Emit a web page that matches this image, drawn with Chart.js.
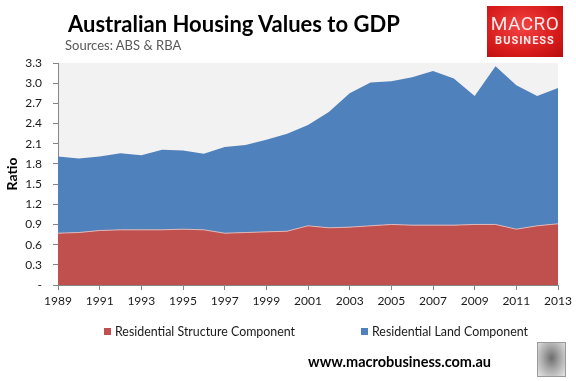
<!DOCTYPE html>
<html>
<head>
<meta charset="utf-8">
<script src="https://cdn.jsdelivr.net/npm/chart.js@4.4.0/dist/chart.umd.min.js"></script>
<style>
  body { margin: 0; background: #fff; font-family: Lato, sans-serif; }
  #wrap { position: relative; width: 576px; height: 381px; overflow: hidden; }
  #chartBox { position: absolute; left: 0; top: 0; width: 576px; height: 381px; }
  #title { position: absolute; left: 68px; top: 10px; font-size: 22px; font-weight: bold; color: #000; white-space: nowrap; }
  #sub { position: absolute; left: 65px; top: 37px; font-size: 13px; color: #595959; white-space: nowrap; }
  #logo { position: absolute; left: 487px; top: 6px; width: 76px; height: 51px;
          background: radial-gradient(ellipse at 45% 40%, #f44444 0%, #d81c1c 60%, #b80d0d 100%);
          color: #fde9e9; text-align: center; font-family: Roboto, sans-serif; }
  #logo .l1 { font-size: 19px; margin-top: 8px; line-height: 20px; letter-spacing: 0.5px; }
  #logo .l2 { font-size: 11px; font-weight: bold; line-height: 14px; letter-spacing: 1px; }
  #foot { position: absolute; left: 308px; top: 353px; font-size: 14.5px; font-weight: bold; color: #000; white-space: nowrap; }
  #wolf { position: absolute; left: 537px; top: 342px; width: 27px; height: 33px; border: 1px solid #9a9a9a;
          background: radial-gradient(ellipse at 50% 45%, #6d6d6d 0%, #a8a8a8 45%, #e6e6e6 100%); }
</style>
</head>
<body>
<div id="wrap">
  <div id="chartBox"><canvas id="housingChart"></canvas></div>
  <div id="title">Australian Housing Values to GDP</div>
  <div id="sub">Sources: ABS &amp; RBA</div>
  <div id="logo"><div class="l1">MACRO</div><div class="l2">BUSINESS</div></div>
  <div id="foot">www.macrobusiness.com.au</div>
  <div id="wolf"></div>
</div>
<script>
// data
const years = ['1989', '1990', '1991', '1992', '1993', '1994', '1995', '1996', '1997', '1998', '1999', '2000',
  '2001', '2002', '2003', '2004', '2005', '2006', '2007', '2008', '2009', '2010', '2011', '2012', '2013'];
const structure = [0.77, 0.78, 0.81, 0.82, 0.82, 0.82, 0.83, 0.82, 0.77, 0.78, 0.79, 0.80,
  0.88, 0.85, 0.86, 0.88, 0.90, 0.89, 0.89, 0.89, 0.90, 0.90, 0.83, 0.88, 0.91];
const land = [1.14, 1.10, 1.10, 1.14, 1.11, 1.19, 1.17, 1.13, 1.28, 1.30, 1.37, 1.45,
  1.50, 1.72, 1.99, 2.13, 2.13, 2.20, 2.29, 2.18, 1.91, 2.35, 2.14, 1.93, 2.02];
const seriesNames = ['Residential Structure Component', 'Residential Land Component'];
const yMax = 3.3;
const yStep = 0.3;

const plotBg = {
  id: 'plotBg',
  beforeDraw(chart) {
    const { ctx, chartArea: a } = chart;
    ctx.save();
    ctx.fillStyle = '#f2f2f2';
    ctx.fillRect(a.left, a.top, a.right - a.left, a.bottom - a.top);
    ctx.restore();
  }
};

// legend row spread out like the original
const legendRow = {
  id: 'legendRow',
  afterDraw(chart) {
    const ctx = chart.ctx;
    const xs = [104, 361];
    const y = 332;
    ctx.save();
    ctx.font = '12.4px Lato';
    ctx.textBaseline = 'middle';
    chart.data.datasets.forEach((ds, i) => {
      ctx.fillStyle = ds.backgroundColor;
      ctx.fillRect(xs[i], y - 4, 7, 7);
      ctx.fillStyle = '#1a1a1a';
      ctx.fillText(ds.label, xs[i] + 11, y);
    });
    ctx.restore();
  }
};

const ctx = document.getElementById('housingChart').getContext('2d');
const housingChart = new Chart(ctx, {
  type: 'line',
  data: {
    labels: years,
    datasets: [{
      label: seriesNames[0],
      data: structure,
      backgroundColor: '#c0504d',
      borderColor: 'rgba(225,190,190,0.9)',
      borderWidth: 1,
      pointRadius: 0,
      fill: 'origin'
    }, {
      label: seriesNames[1],
      data: land,
      backgroundColor: '#4f81bd',
      borderColor: '#4f81bd',
      borderWidth: 0,
      pointRadius: 0,
      fill: '-1'
    }]
  },
  options: {
    responsive: true,
    maintainAspectRatio: false,
    animation: false,
    layout: { padding: { left: 0, top: 63, right: 18, bottom: 0 } },
    plugins: {
      legend: { display: false },
      tooltip: { enabled: false }
    },
    scales: {
      x: {
        offset: false,
        border: { display: true, color: '#868686' },
        grid: {
          drawOnChartArea: false,
          tickLength: 5,
          color: c => (c.index % 2 === 0 ? '#868686' : 'rgba(0,0,0,0)')
        },
        ticks: {
          autoSkip: false,
          maxRotation: 0,
          padding: 4,
          color: '#1a1a1a',
          font: { family: 'Lato', size: 12 },
          callback: (v, i) => (i % 2 === 0 ? years[i] : '')
        },
        afterFit: s => { s.height = 96; }
      },
      y: {
        stacked: true,
        min: 0,
        max: yMax,
        border: { display: true, color: '#868686' },
        grid: { drawOnChartArea: false, tickLength: 5, color: '#868686' },
        ticks: {
          stepSize: yStep,
          padding: 11,
          color: '#1a1a1a',
          font: { family: 'Lato', size: 12 },
          callback: v => (v === 0 ? '-' : v.toFixed(1))
        },
        title: {
          display: true,
          text: 'Ratio',
          color: '#000',
          font: { family: 'Lato', size: 14, weight: 'bold' },
          padding: { top: 4, bottom: 0 }
        },
        afterFit: s => { s.width = 58; }
      }
    }
  },
  plugins: [plotBg, legendRow]
});
</script>
</body>
</html>
